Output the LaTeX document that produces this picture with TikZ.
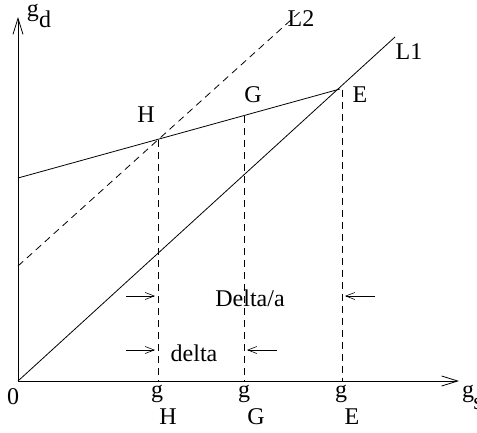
\documentclass[tikz,border=0pt]{standalone}
\usepackage{fontspec}
\setmainfont{Liberation Serif}
\usetikzlibrary{arrows.meta}
\begin{document}
\begin{tikzpicture}[x=1pt,y=-1pt,
  lab/.style={anchor=base,inner sep=0pt,font=\fontsize{24}{28}\selectfont},
  axis/.style={line width=0.9pt,-{Straight Barb[length=16pt,width=10pt,line width=0.8pt]}},
  dim/.style={line width=0.6pt,-{Straight Barb[length=9pt,width=7pt,line width=0.6pt]}},
  thin line/.style={line width=0.8pt},
  dashline/.style={line width=0.8pt,dash pattern=on 7pt off 5pt}]
\useasboundingbox (0,0) rectangle (477,432);
% points
\coordinate (O) at (18,381);
\coordinate (Ytop) at (18,17);
\coordinate (Xend) at (459,381);
\coordinate (L1s) at (18,381);
\coordinate (L1e) at (395,37);
\coordinate (L2s) at (18,266);
\coordinate (L2e) at (302,10);
\coordinate (A) at (18,178);
\coordinate (H) at (158,140);
\coordinate (G) at (244,116);
\coordinate (E) at (340,89);
\coordinate (Hb) at (158,381);
\coordinate (Gb) at (244,381);
\coordinate (Et) at (342,90);
\coordinate (Eb) at (342,381);
% axes
\draw[axis] (O) -- (Ytop);
\draw[axis] (O) -- (Xend);
% lines
\draw[thin line] (L1s) -- (L1e);
\draw[dashline] (L2s) -- (L2e);
\draw[thin line] (A) -- (E);
% verticals
\draw[dashline] (H) -- (Hb);
\draw[dashline] (G) -- (Gb);
\draw[dashline] (Et) -- (Eb);
% dimension arrows
\coordinate (d1a) at (126,296); \coordinate (d1b) at (155,296);
\coordinate (d2a) at (375,296); \coordinate (d2b) at (345,296);
\coordinate (d3a) at (126,350); \coordinate (d3b) at (155,350);
\coordinate (d4a) at (277,350); \coordinate (d4b) at (247,350);
\draw[dim] (d1a) -- (d1b);
\draw[dim] (d2a) -- (d2b);
\draw[dim] (d3a) -- (d3b);
\draw[dim] (d4a) -- (d4b);
% labels
\node[lab] (tDa) at (250,306) {Delta/a};
\node[lab] (tda) at (194,361) {delta};
\node[lab] (tH) at (146,122) {H};
\node[lab] (tG) at (253,102) {G};
\node[lab] (tE) at (360,102) {E};
\node[lab] (tL1) at (409,59) {L1};
\node[lab] (tL2) at (301,26) {L2};
\node[lab] (tzero) at (13,404) {0};
\node[lab] (tgd) at (33,16) {g};
\node[lab] (tgdd) at (45,27) {d};
\node[lab] (tgH) at (157,397) {g};
\node[lab] (tgHs) at (168,424) {H};
\node[lab] (tgG) at (244,397) {g};
\node[lab] (tgGs) at (256,424) {G};
\node[lab] (tgE) at (341,397) {g};
\node[lab] (tgEs) at (352,424) {E};
\node[lab] (tgs) at (468,397) {g};
\node[lab] (tgss) at (478,409) {s};
\end{tikzpicture}
\end{document}
